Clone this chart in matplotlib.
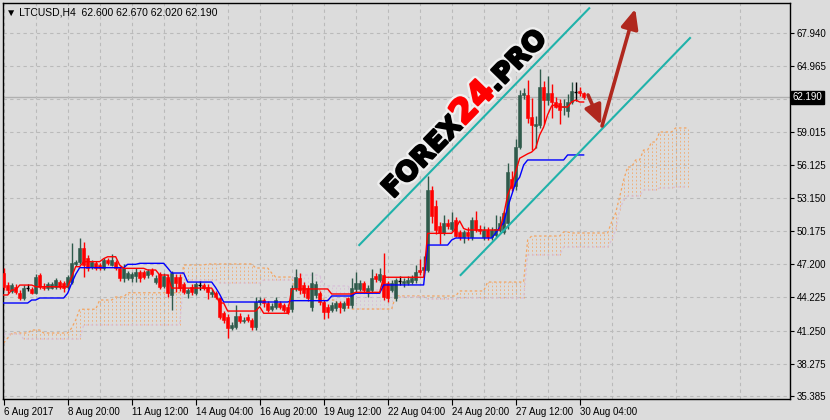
import numpy as np
import matplotlib
matplotlib.use("Agg")
import matplotlib.pyplot as plt
from matplotlib import patheffects as pe
from matplotlib.transforms import IdentityTransform, blended_transform_factory

# ---- LTCUSD H4 candles (bar 0 = 6 Aug 2017 04:00, one bar per 4h) ----
opens = [46.41, 45.33, 44.80, 45.15, 44.60, 44.20, 45.10, 45.00, 44.60, 46.20,
         45.20, 45.06, 45.10, 45.15, 45.60, 45.50, 45.15, 45.60, 47.20, 47.40,
         48.66, 47.76, 46.95, 47.30, 47.13, 46.86, 47.58, 47.13, 47.40, 46.86,
         45.96, 45.96, 45.96, 46.10, 46.50, 46.50, 46.20, 46.68, 45.63, 46.30,
         45.27, 46.08, 44.44, 46.08, 46.08, 45.40, 44.60, 45.20, 44.60, 45.34,
         45.34, 45.18, 44.50, 44.59, 44.14, 42.80, 42.49, 41.50, 41.60, 42.58,
         42.10, 42.49, 42.20, 41.60, 43.78, 43.99, 43.70, 43.18, 43.39, 43.70,
         43.50, 43.39, 43.20, 45.04, 45.93, 45.34, 45.04, 43.39, 44.44, 44.59,
         43.84, 43.39, 43.09, 43.24, 43.69, 43.24, 44.14, 43.54, 44.95, 45.00,
         45.49, 44.59, 44.89, 46.14, 45.78, 46.23, 45.49, 44.90, 44.14, 45.69,
         45.49, 45.55, 45.60, 45.78, 46.68, 46.68, 46.70, 53.90, 52.40, 50.60,
         50.00, 50.90, 50.40, 51.20, 50.10, 49.60, 50.10, 49.60, 51.20, 50.40,
         49.60, 50.30, 49.60, 49.80, 50.30, 50.10, 50.90, 54.80, 54.20, 57.70,
         62.38, 62.38, 60.44, 59.60, 59.69, 63.12, 61.93, 62.53, 61.78, 61.63,
         61.33, 60.95, 61.78, 62.68, 62.77, 62.60]
highs = [46.86, 45.60, 45.50, 45.40, 44.90, 45.30, 45.40, 45.20, 46.30, 46.40,
         45.50, 45.60, 45.60, 46.00, 45.80, 45.70, 46.20, 49.10, 47.60, 49.56,
         49.20, 48.00, 47.60, 47.50, 47.30, 47.80, 47.80, 48.10, 47.60, 47.00,
         47.20, 46.60, 46.50, 46.90, 46.70, 46.70, 46.80, 46.90, 46.20, 46.50,
         46.40, 46.30, 46.60, 46.30, 46.30, 45.60, 45.10, 45.40, 45.60, 45.70,
         45.50, 45.40, 45.00, 44.80, 44.30, 43.00, 42.70, 42.00, 43.54, 42.80,
         42.50, 42.70, 42.40, 44.29, 44.30, 44.20, 43.90, 43.70, 44.29, 43.90,
         43.70, 43.60, 45.30, 46.77, 46.40, 45.60, 45.30, 46.50, 45.70, 44.80,
         44.00, 43.60, 43.80, 43.90, 43.90, 43.90, 44.30, 45.96, 46.50, 45.80,
         45.70, 45.30, 46.77, 46.40, 46.90, 48.18, 45.70, 45.80, 46.00, 46.10,
         46.00, 46.10, 46.20, 47.10, 47.70, 47.90, 55.10, 54.20, 53.00, 51.00,
         51.60, 51.30, 51.90, 51.40, 50.30, 50.30, 50.50, 51.40, 52.00, 50.70,
         50.60, 50.50, 50.50, 51.60, 51.50, 52.00, 56.30, 55.60, 58.40, 62.83,
         63.00, 63.70, 62.10, 60.50, 64.70, 63.60, 64.10, 63.40, 62.20, 62.00,
         62.00, 62.50, 63.50, 63.50, 63.10, 62.67]
lows = [44.90, 44.60, 44.60, 44.50, 44.00, 44.00, 44.80, 44.50, 44.50, 45.00,
        44.90, 44.90, 44.95, 45.00, 45.00, 44.70, 45.00, 45.40, 47.00, 47.20,
        46.05, 46.60, 46.80, 46.70, 46.70, 46.70, 47.10, 47.00, 46.70, 45.70,
        45.60, 45.80, 45.60, 45.60, 45.60, 45.90, 46.00, 46.10, 45.40, 45.00,
        45.10, 44.30, 43.09, 44.70, 44.80, 44.50, 44.20, 44.40, 44.40, 44.90,
        44.90, 44.05, 44.30, 44.10, 42.30, 41.90, 40.60, 41.30, 41.40, 41.90,
        41.90, 42.00, 41.30, 41.30, 43.50, 43.40, 42.90, 43.00, 43.20, 43.20,
        42.90, 42.70, 42.90, 44.80, 44.50, 44.30, 43.90, 43.00, 44.20, 43.50,
        42.30, 42.40, 42.90, 43.00, 42.80, 43.00, 43.30, 43.30, 44.70, 44.80,
        44.60, 44.30, 44.70, 45.60, 45.60, 44.00, 43.80, 44.70, 43.90, 45.30,
        45.20, 45.30, 45.40, 45.50, 46.20, 46.40, 46.50, 50.90, 49.90, 49.00,
        49.80, 50.40, 50.20, 49.60, 49.40, 49.10, 49.40, 49.40, 50.10, 49.90,
        49.40, 49.40, 49.40, 49.60, 50.10, 49.90, 50.40, 53.80, 53.90, 57.50,
        62.00, 59.90, 57.40, 57.60, 59.40, 59.80, 61.50, 60.30, 61.20, 59.80,
        60.60, 60.40, 61.60, 61.80, 62.30, 62.02]
closes = [45.16, 44.88, 45.33, 44.70, 44.15, 45.06, 45.10, 44.60, 46.05, 45.15,
          45.05, 45.40, 45.40, 45.78, 45.15, 45.05, 46.05, 47.30, 47.40, 48.66,
          47.13, 46.86, 47.40, 46.86, 46.86, 47.58, 47.30, 47.58, 46.86, 45.96,
          46.86, 46.41, 46.30, 46.50, 45.96, 46.05, 46.60, 46.30, 46.00, 45.18,
          46.17, 44.59, 46.38, 45.49, 45.04, 44.73, 44.90, 44.70, 45.40, 45.34,
          45.04, 44.73, 44.73, 44.29, 42.49, 42.20, 41.51, 41.75, 42.58, 42.10,
          42.20, 42.20, 41.60, 43.84, 43.99, 43.70, 43.09, 43.48, 43.99, 43.39,
          43.09, 42.94, 45.06, 46.08, 44.89, 44.59, 44.14, 45.49, 45.42, 43.84,
          42.94, 42.94, 43.54, 43.69, 43.39, 43.69, 43.54, 45.04, 45.49, 45.49,
          44.90, 45.04, 45.93, 45.84, 46.32, 44.29, 44.14, 45.49, 45.78, 45.69,
          45.72, 45.78, 46.00, 46.53, 46.53, 46.98, 53.90, 51.50, 50.30, 50.00,
          50.90, 50.60, 51.00, 49.70, 49.60, 50.10, 49.70, 51.20, 50.30, 50.20,
          50.30, 49.60, 50.30, 50.40, 50.90, 51.80, 55.50, 54.00, 57.70, 62.38,
          62.53, 60.29, 59.69, 59.75, 63.12, 61.93, 62.53, 61.78, 61.33, 61.03,
          61.40, 61.78, 62.77, 62.68, 62.53, 62.19]

# ---- Ichimoku lines, as (level, number of bars) runs ----
tenkan_lv = [44.44, 44.89, 45.33, 45.18, 46.08, 46.98, 47.43, 47.70, 47.87, 47.12,
             46.83, 46.68, 46.23, 45.06, 44.44, 43.72, 43.00, 43.39, 42.80, 44.98,
             44.53, 44.68, 46.03, 49.97, 50.40, 51.08, 50.40, 50.27, 51.60, 53.40,
             54.30, 55.47, 56.70, 56.90, 57.10, 57.26, 57.60, 58.79, 59.50, 60.60,
             61.40, 61.50, 61.30, 61.75, 61.93, 61.75]
tenkan_n = [2, 2, 4, 9, 1, 2, 5, 1, 3, 1, 6, 3, 3, 11, 1, 2, 8, 1, 7, 10,
            6, 7, 11, 7, 1, 1, 1, 9, 1, 1, 1, 1, 1, 1, 1, 1, 1, 1, 1, 1,
            1, 1, 3, 1, 1, 2]
kijun_lv = [43.72, 43.99, 44.17, 44.60, 45.50, 46.30, 46.89, 47.19, 47.28, 46.86,
            46.41, 45.60, 45.10, 44.50, 43.81, 43.93, 44.35, 44.60, 45.34, 48.92,
            49.37, 49.55, 49.99, 50.50, 50.90, 52.30, 53.40, 54.50, 55.00, 56.10,
            56.55, 57.00]
kijun_n = [7, 2, 7, 1, 1, 1, 12, 3, 7, 1, 4, 7, 1, 1, 17, 10, 6, 7, 11, 6,
           1, 10, 1, 1, 1, 1, 1, 1, 1, 1, 10, 5]
span_a_lv = [40.13, 40.58, 41.03, 41.30, 41.03, 41.48, 42.20, 43.16, 43.99, 44.26,
             44.64, 47.13, 47.22, 46.86, 46.41, 46.05, 44.89, 43.99, 43.27, 43.18,
             44.35, 44.80, 45.60, 49.37, 49.73, 50.09, 50.00, 50.99, 51.79, 53.23,
             54.75, 55.92, 56.55, 57.44, 58.16, 59.06, 59.42]
span_a_n = [1, 1, 5, 3, 7, 1, 1, 5, 4, 3, 14, 6, 12, 4, 1, 5, 7, 4, 3, 11,
            16, 7, 10, 1, 8, 2, 10, 1, 1, 1, 1, 2, 2, 2, 2, 4, 4]
span_b_lv = [40.94, 40.49, 41.75, 45.78, 45.51, 45.78, 46.23, 45.25, 44.89, 44.26,
             44.08, 44.17, 48.03, 48.74, 49.37, 50.27, 52.06, 52.96, 53.32, 53.86,
             54.04, 54.13]
span_b_n = [5, 15, 25, 9, 11, 8, 7, 7, 11, 8, 8, 17, 9, 12, 1, 1, 1, 1, 4, 4,
            4, 4]

# ---- axis text ----
price_ticks = [67.940, 64.965, 59.015, 56.125, 53.150, 50.175, 47.200, 44.225,
               41.250, 38.275, 35.385]
date_ticks = [0, 16, 32, 48, 64, 80, 96, 112, 128, 144]
date_labels = ["6 Aug 2017", "8 Aug 20:00", "11 Aug 12:00", "14 Aug 04:00",
               "16 Aug 20:00", "19 Aug 12:00", "22 Aug 04:00", "24 Aug 20:00",
               "27 Aug 12:00", "30 Aug 04:00"]
title = "\u25bc LTCUSD,H4  62.600 62.670 62.020 62.190"
last_price = 62.190

# ---- drawn objects: channel lines and forecast arrows (bar, price) ----
channel_upper = [(88.9, 48.92), (146.4, 70.16)]
channel_lower = [(114.25, 46.23), (171.6, 67.49)]
arrow_down = [(146.1, 62.38), (149.4, 59.70)]
arrow_up = [(149.6, 59.60), (157.9, 70.10)]

BG = "#dcdcdc"
BULL = "#2f5a4b"
BEAR = "#ff0000"
GRID = "#bababa"

fig = plt.figure(figsize=(8.3, 4.2), dpi=100, facecolor=BG)
ax = fig.add_axes([3 / 830, 21 / 420, 787 / 830, 396 / 420], facecolor=BG)
ax.set_xlim(-0.175, 196.6)
ax.set_ylim(35.11, 70.63)

# grid
ax.set_yticks(price_ticks + [61.990])
ax.set_yticklabels([f"{v:.3f}" for v in price_ticks] + [""])
ax.set_xticks(date_ticks)
ax.set_xticklabels(date_labels)
ax.set_xticks(np.arange(8, 197, 16), minor=True)
ax.grid(True, which="both", color=GRID, ls=(0, (3, 3)), lw=0.8, zorder=0)
ax.axhline(last_price, color="#b0b0b0", lw=1, zorder=1)

# ichimoku cloud (dotted hatch, sandybrown when span A on top, thistle otherwise)
span_a = np.repeat(span_a_lv, span_a_n)
span_b = np.repeat(span_b_lv, span_b_n)
xc = np.arange(len(span_a))
up_kumo = span_a >= span_b
ax.vlines(xc[up_kumo], span_b[up_kumo], span_a[up_kumo], colors="#f4a460",
          lw=0.6, linestyles=(0, (2, 2.5)), alpha=0.9, zorder=2)
ax.vlines(xc[~up_kumo], span_a[~up_kumo], span_b[~up_kumo], colors="#d8bfd8",
          lw=0.6, linestyles=(0, (2, 2.5)), zorder=2)
ax.plot(xc, span_a, color="#f4a460", lw=0.9, ls=(0, (2, 2)), zorder=2)
ax.plot(xc, span_b, color="#d8bfd8", lw=0.9, ls=(0, (2, 2)), zorder=2)

# candles
o, h, l, c = (np.array(v) for v in (opens, highs, lows, closes))
x = np.arange(len(c))
col = np.where(c > o, BULL, np.where(c < o, BEAR, "black"))
doji = c == o
ax.vlines(x, l, h, colors=col, lw=1.0, zorder=4)
ax.bar(x[~doji], np.abs(c - o)[~doji], bottom=np.minimum(o, c)[~doji], width=0.72,
       color=col[~doji], edgecolor=col[~doji], lw=0.4, zorder=5)
ax.hlines(o[doji], x[doji] - 0.45, x[doji] + 0.45, colors="black", lw=1.0, zorder=5)

# tenkan / kijun
tenkan = np.repeat(tenkan_lv, tenkan_n)
kijun = np.repeat(kijun_lv, kijun_n)
ax.plot(x, kijun, color="#0000ff", lw=1.0, zorder=6)
ax.plot(x, tenkan, color="#ff0000", lw=1.0, zorder=6)

# channel
for seg in (channel_upper, channel_lower):
    (x0, y0), (x1, y1) = seg
    ax.plot([x0, x1], [y0, y1], color="#20b2aa", lw=1.5, zorder=7)

# arrows
for seg in (arrow_down, arrow_up):
    ax.annotate("", xy=seg[1], xytext=seg[0],
                arrowprops=dict(arrowstyle="-|>,head_length=0.9,head_width=0.4",
                                color="#b0281e", lw=2.6, mutation_scale=13,
                                shrinkA=0, shrinkB=0), zorder=8)

# axes styling
for s in ax.spines.values():
    s.set_color("black")
    s.set_linewidth(1.0)
ax.yaxis.tick_right()
ax.tick_params(axis="y", which="major", direction="out", length=3, pad=2,
               labelsize=7, colors="black")
ax.tick_params(axis="x", which="major", direction="out", length=4, pad=2,
               labelsize=7, colors="black")
ax.tick_params(axis="x", which="minor", length=0)
for lbl in ax.get_xticklabels() + ax.get_yticklabels():
    lbl.set_fontfamily("Liberation Sans")
for lbl in ax.get_xticklabels():
    lbl.set_ha("left")

tr = blended_transform_factory(ax.transAxes, ax.transData)
ax.text(1.003, last_price, "62.190", transform=tr, ha="left", va="center",
        fontsize=7, family="Liberation Sans", color="white", zorder=10,
        bbox=dict(boxstyle="square,pad=0.15", fc="black", ec="black"), clip_on=False)

ax.text(0.004, 0.988, title, transform=ax.transAxes, ha="left", va="top",
        fontsize=7.5, family=["Liberation Sans", "DejaVu Sans"], color="black", zorder=10)

# watermark, written along the channel
r = fig.canvas.get_renderer()
pieces = [("FOREX", "black", 1.0), ("24", "#ff0000", 1.25), (".PRO", "black", 1.0)]
ang = 45.8
th = np.deg2rad(ang)
base = 20.0
widths = []
for s, _, k in pieces:
    t = fig.text(0, 0, s, fontsize=base * k, fontweight="bold", family="DejaVu Sans")
    widths.append(t.get_window_extent(r).width)
    t.remove()
scale = 222.0 / sum(widths)
px, py = 393.0, 420 - 199.0
for (s, cl, k), w in zip(pieces, widths):
    fig.text(px, py, s, transform=IdentityTransform(), rotation=ang,
             rotation_mode="anchor", ha="left", va="baseline",
             fontsize=base * k * scale, fontweight="bold", family="DejaVu Sans",
             color=cl, zorder=9,
             path_effects=[pe.Stroke(linewidth=5, foreground="#efefef"),
                           pe.Stroke(linewidth=1.6, foreground=cl), pe.Normal()])
    px += w * scale * np.cos(th)
    py += w * scale * np.sin(th)

fig.savefig("out.png", dpi=100, facecolor=BG)
